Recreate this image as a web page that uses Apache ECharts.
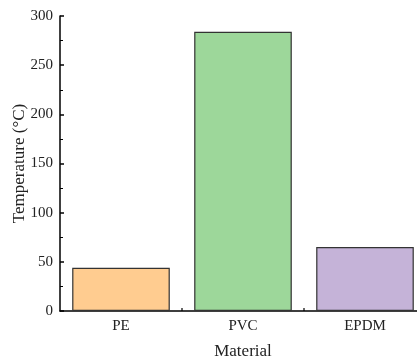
<!DOCTYPE html>
<html><head><meta charset="utf-8">
<script src="https://cdn.jsdelivr.net/npm/echarts@6/dist/echarts.min.js"></script>
<style>html,body{margin:0;padding:0;background:#fff}#c{width:417px;height:357px}</style>
</head><body><div id="c"></div>
<script>
const categories = ['PE', 'PVC', 'EPDM'];
const temperatures = [44, 284, 65];
const barColors = ['#FFCC90', '#9DD79A', '#C5B3D8'];
const yTicks = [0, 50, 100, 150, 200, 250, 300];

const font = 'Liberation Serif';
const chart = echarts.init(document.getElementById('c'), null, {renderer: 'canvas'});
chart.setOption({
  animation: false,
  grid: {left: 60, right: -9, top: 16, bottom: 46, containLabel: false, outerBoundsMode: 'none'},
  xAxis: {
    type: 'category', data: categories,
    name: 'Material', nameLocation: 'middle', nameGap: 32,
    nameTextStyle: {fontFamily: font, fontSize: 17, color: '#222'},
    axisLine: {lineStyle: {color: '#000', width: 1.5}},
    axisTick: {show: true, inside: true, alignWithLabel: true, length: 4, lineStyle: {color: '#000', width: 1.5}},
    minorTick: {show: false},
    axisLabel: {fontFamily: font, fontSize: 15, color: '#222', margin: 8}
  },
  yAxis: {
    type: 'value', min: yTicks[0], max: yTicks[yTicks.length - 1], interval: 50,
    name: 'Temperature (°C)', nameLocation: 'middle', nameGap: 32, nameMoveOverlap: false,
    nameTextStyle: {fontFamily: font, fontSize: 17, color: '#222'},
    axisLine: {show: true, lineStyle: {color: '#000', width: 1.5}},
    axisTick: {show: true, inside: true, length: 4, lineStyle: {color: '#000', width: 1.5}},
    minorTick: {show: true, splitNumber: 2, length: 3, lineStyle: {color: '#000', width: 1}},
    splitLine: {show: false},
    axisLabel: {fontFamily: font, fontSize: 15, color: '#222', margin: 7}
  },
  series: [{
    type: 'bar', barWidth: '80%',
    data: temperatures.map((v, i) => ({value: v, itemStyle: {color: barColors[i]}})),
    itemStyle: {borderColor: '#333', borderWidth: 1.2}
  }, {
    // minor ticks at category boundaries on x axis
    type: 'custom', silent: true, z: 5,
    data: categories.slice(1).map((c, i) => [i]),
    renderItem: function (params, api) {
      const i = api.value(0);
      const p0 = api.coord([i, 0]);
      const p1 = api.coord([i + 1, 0]);
      const x = (p0[0] + p1[0]) / 2;
      return {type: 'line', shape: {x1: x, y1: p0[1], x2: x, y2: p0[1] - 3}, style: {stroke: '#000', lineWidth: 1.2}};
    }
  }]
});
</script></body></html>
